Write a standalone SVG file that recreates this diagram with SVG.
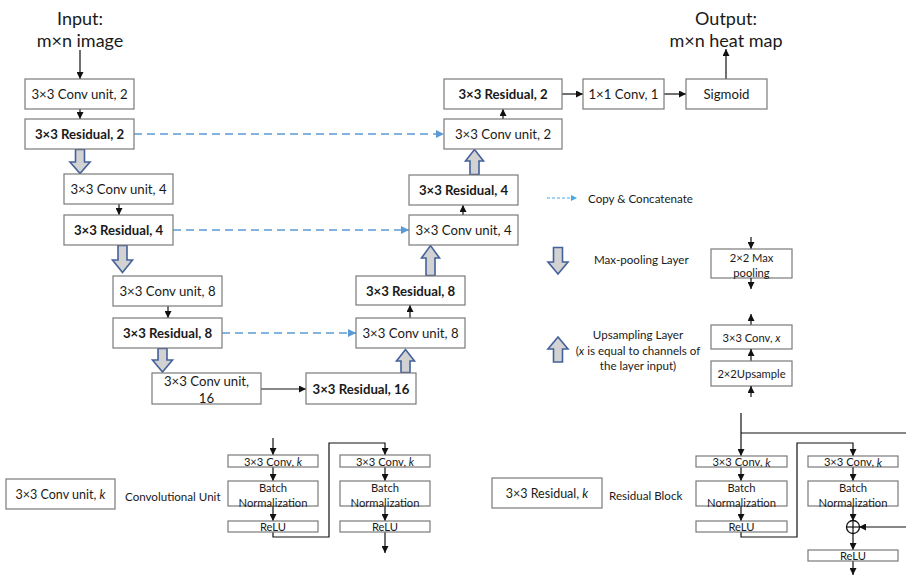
<svg xmlns="http://www.w3.org/2000/svg" width="906" height="575" viewBox="0 0 906 575">
<defs>
<style>
.box{fill:#fff;stroke:#7a7a7a;stroke-width:1.2}
.t{font-family:Lato,"Liberation Sans",sans-serif;font-size:13.2px;fill:#1a1a1a;text-anchor:middle;dominant-baseline:central}
.b{font-weight:bold}
.big{font-size:18px}
.lg{font-size:11.6px;text-anchor:start}
.sm{font-size:11.2px}
.ln{fill:none;stroke:#111;stroke-width:1.2}
.dash{fill:none;stroke:#5b9bd5;stroke-width:1.5;stroke-dasharray:8 5}
.fat{fill:#d2d2d2;stroke:#44619b;stroke-width:1.6;stroke-linejoin:miter}
</style>
<marker id="ah" viewBox="0 0 10 10" refX="10" refY="5" markerWidth="7" markerHeight="7" markerUnits="userSpaceOnUse" orient="auto"><path d="M0,0L10,5L0,10z" fill="#111"/></marker>
<marker id="bh" viewBox="0 0 10 10" refX="10" refY="5" markerWidth="8" markerHeight="8" markerUnits="userSpaceOnUse" orient="auto"><path d="M0,0L10,5L0,10z" fill="#5b9bd5"/></marker>
<marker id="ch" viewBox="0 0 10 10" refX="10" refY="5" markerWidth="6" markerHeight="6" markerUnits="userSpaceOnUse" orient="auto"><path d="M0,0L10,5L0,10z" fill="#4aa8e0"/></marker>
</defs>
<rect width="906" height="575" fill="#fff"/>

<g id="labels">
<text class="t big" x="80" y="18">Input:</text>
<text class="t big" x="80" y="40">m×n image</text>
<text class="t big" x="726" y="18">Output:</text>
<text class="t big" x="726" y="40">m×n heat map</text>
</g>

<g id="connectors">
<line class="ln" x1="80" y1="50" x2="80" y2="79" marker-end="url(#ah)"/>
<line class="ln" x1="80" y1="109" x2="80" y2="119" marker-end="url(#ah)"/>
<line class="ln" x1="119" y1="204" x2="119" y2="215" marker-end="url(#ah)"/>
<line class="ln" x1="168" y1="306" x2="168" y2="318" marker-end="url(#ah)"/>
<line class="ln" x1="261" y1="389" x2="306" y2="389" marker-end="url(#ah)"/>
<line class="ln" x1="410" y1="318" x2="410" y2="305" marker-end="url(#ah)"/>
<line class="ln" x1="463" y1="215" x2="463" y2="205" marker-end="url(#ah)"/>
<line class="ln" x1="503" y1="119" x2="503" y2="109" marker-end="url(#ah)"/>
<line class="ln" x1="562" y1="94" x2="583" y2="94" marker-end="url(#ah)"/>
<line class="ln" x1="664" y1="94" x2="686" y2="94" marker-end="url(#ah)"/>
<line class="ln" x1="726" y1="79" x2="726" y2="49" marker-end="url(#ah)"/>
<line class="dash" x1="134" y1="134" x2="444" y2="134" marker-end="url(#bh)"/>
<line class="dash" x1="173" y1="230" x2="409" y2="230" marker-end="url(#bh)"/>
<line class="dash" x1="222" y1="333" x2="356" y2="333" marker-end="url(#bh)"/>
<!-- fat pooling arrows -->
<path class="fat" d="M75.5,149.5H84.5V162H90L80,173.5L70,162H75.5Z"/>
<path class="fat" d="M118,245.5H127V260H132.5L122.5,272.5L112.5,260H118Z"/>
<path class="fat" d="M158,348.5H167V360H172.5L162.5,372L152.5,360H158Z"/>
<!-- fat upsampling arrows -->
<path class="fat" d="M401,372.5H410V361H414.5L405.5,349.5L396.5,361H401Z"/>
<path class="fat" d="M426,275.5H435V258H439.5L430.5,245.5L421.5,258H426Z"/>
<path class="fat" d="M470,174.5H479V161H483.5L474.5,149.5L465.5,161H470Z"/>
<!-- conv unit detail -->
<line class="ln" x1="273" y1="438" x2="273" y2="455" marker-end="url(#ah)"/>
<line class="ln" x1="273" y1="467" x2="273" y2="481" marker-end="url(#ah)"/>
<line class="ln" x1="273" y1="497" x2="273" y2="521" marker-end="url(#ah)"/>
<polyline class="ln" points="273,532 273,537 329,537 329,443 385,443 385,455" marker-end="url(#ah)"/>
<line class="ln" x1="385" y1="467" x2="385" y2="481" marker-end="url(#ah)"/>
<line class="ln" x1="385" y1="497" x2="385" y2="521" marker-end="url(#ah)"/>
<line class="ln" x1="385" y1="532" x2="385" y2="553" marker-end="url(#ah)"/>
<!-- residual detail -->
<line class="ln" x1="741" y1="413" x2="741" y2="456" marker-end="url(#ah)"/>
<polyline class="ln" points="741,433 906,433"/>
<line class="ln" x1="741" y1="467" x2="741" y2="481" marker-end="url(#ah)"/>
<line class="ln" x1="741" y1="497" x2="741" y2="521" marker-end="url(#ah)"/>
<polyline class="ln" points="741,532 741,537 797,537 797,443 853,443 853,456" marker-end="url(#ah)"/>
<line class="ln" x1="853" y1="467" x2="853" y2="481" marker-end="url(#ah)"/>
<line class="ln" x1="853" y1="497" x2="853" y2="521" marker-end="url(#ah)"/>
<line class="ln" x1="906" y1="527" x2="859" y2="527" marker-end="url(#ah)"/>
<line class="ln" x1="853" y1="533" x2="853" y2="550" marker-end="url(#ah)"/>
<line class="ln" x1="853" y1="561" x2="853" y2="575" marker-end="url(#ah)"/>
</g>

<g id="conv2"><rect class="box" x="25" y="79" width="109" height="30"/><text class="t" x="79.5" y="94">3×3 Conv unit, 2</text></g>
<g id="res2"><rect class="box" x="25" y="119" width="109" height="30"/><text class="t b" x="79.5" y="134">3×3 Residual, 2</text></g>
<g id="conv4"><rect class="box" x="64" y="174" width="109" height="30"/><text class="t" x="118.5" y="189">3×3 Conv unit, 4</text></g>
<g id="res4"><rect class="box" x="64" y="215" width="109" height="30"/><text class="t b" x="118.5" y="230">3×3 Residual, 4</text></g>
<g id="conv8"><rect class="box" x="113" y="276" width="109" height="30"/><text class="t" x="167.5" y="291">3×3 Conv unit, 8</text></g>
<g id="res8"><rect class="box" x="113" y="318" width="109" height="30"/><text class="t b" x="167.5" y="333">3×3 Residual, 8</text></g>
<g id="conv16"><rect class="box" x="152" y="373" width="109" height="31"/><text class="t" x="206.5" y="381">3×3 Conv unit,</text><text class="t" x="206.5" y="398">16</text></g>
<g id="res16"><rect class="box" x="306" y="373" width="110" height="31"/><text class="t b" x="361" y="389">3×3 Residual, 16</text></g>
<g id="upconv8"><rect class="box" x="356" y="318" width="109" height="30"/><text class="t" x="410.5" y="333">3×3 Conv unit, 8</text></g>
<g id="upres8"><rect class="box" x="356" y="276" width="109" height="29"/><text class="t b" x="410.5" y="290.5">3×3 Residual, 8</text></g>
<g id="upconv4"><rect class="box" x="409" y="215" width="109" height="30"/><text class="t" x="463.5" y="230">3×3 Conv unit, 4</text></g>
<g id="upres4"><rect class="box" x="409" y="175" width="109" height="30"/><text class="t b" x="463.5" y="190">3×3 Residual, 4</text></g>
<g id="upconv2"><rect class="box" x="444" y="119" width="118" height="30"/><text class="t" x="503" y="134">3×3 Conv unit, 2</text></g>
<g id="upres2"><rect class="box" x="444" y="79" width="118" height="30"/><text class="t b" x="503" y="94">3×3 Residual, 2</text></g>
<g id="conv1x1"><rect class="box" x="583" y="79" width="81" height="30"/><text class="t" x="623.5" y="94">1×1 Conv, 1</text></g>
<g id="sigmoid"><rect class="box" x="686" y="79" width="81" height="30"/><text class="t" x="726.5" y="94">Sigmoid</text></g>

<g id="legend-copy">
<line x1="547" y1="198" x2="577" y2="198" stroke="#4aa8e0" stroke-width="1.2" stroke-dasharray="3 2" marker-end="url(#ch)"/>
<text class="t lg" x="588" y="198">Copy &amp; Concatenate</text>
</g>
<g id="legend-pool">
<path class="fat" d="M553.5,247.5H562.5V262H568L558,274L548,262H553.5Z"/>
<text class="t lg" x="594" y="259">Max-pooling Layer</text>
<line class="ln" x1="751" y1="237" x2="751" y2="249" marker-end="url(#ah)"/>
<rect class="box" x="711" y="249" width="81" height="29"/>
<text class="t sm" x="751.5" y="257">2×2 Max</text>
<text class="t sm" x="751.5" y="272">pooling</text>
<line class="ln" x1="751" y1="278" x2="751" y2="289" marker-end="url(#ah)"/>
</g>
<g id="legend-up">
<path class="fat" d="M553.5,362H562.5V349H568L558,337L548,349H553.5Z"/>
<text class="t" style="font-size:11.6px" x="638" y="334">Upsampling Layer</text>
<text class="t" style="font-size:11.6px" x="638" y="350">(<tspan font-style="italic">x</tspan> is equal to channels of</text>
<text class="t" style="font-size:11.6px" x="638" y="365">the layer input)</text>
<line class="ln" x1="751" y1="325" x2="751" y2="314" marker-end="url(#ah)"/>
<rect class="box" x="711" y="325" width="81" height="24"/>
<text class="t sm" x="751.5" y="337">3×3 Conv, <tspan font-style="italic">x</tspan></text>
<line class="ln" x1="751" y1="361" x2="751" y2="349" marker-end="url(#ah)"/>
<rect class="box" x="711" y="361" width="81" height="25"/>
<text class="t sm" x="751.5" y="373.5">2×2Upsample</text>
<line class="ln" x1="751" y1="397" x2="751" y2="386" marker-end="url(#ah)"/>
</g>

<g id="convunit-legend">
<rect class="box" x="6" y="479" width="109" height="30"/>
<text class="t" style="font-size:12.5px" x="60.5" y="494">3×3 Conv unit, <tspan font-style="italic">k</tspan></text>
<text class="t lg" x="125" y="496">Convolutional Unit</text>
</g>
<g id="cu-conv1"><rect class="box" x="228" y="455" width="90" height="12"/><text class="t sm" x="273" y="461">3×3 Conv, <tspan font-style="italic">k</tspan></text></g>
<g id="cu-bn1"><rect class="box" x="228" y="481" width="90" height="25"/><text class="t sm" x="273" y="487">Batch</text><text class="t sm" x="273" y="502">Normalization</text></g>
<g id="cu-relu1"><rect class="box" x="228" y="521" width="90" height="11"/><text class="t sm" x="273" y="526.5">ReLU</text></g>
<g id="cu-conv2"><rect class="box" x="340" y="455" width="90" height="12"/><text class="t sm" x="385" y="461">3×3 Conv, <tspan font-style="italic">k</tspan></text></g>
<g id="cu-bn2"><rect class="box" x="340" y="481" width="90" height="25"/><text class="t sm" x="385" y="487">Batch</text><text class="t sm" x="385" y="502">Normalization</text></g>
<g id="cu-relu2"><rect class="box" x="340" y="521" width="90" height="11"/><text class="t sm" x="385" y="526.5">ReLU</text></g>

<g id="resblock-legend">
<rect class="box" x="492" y="478" width="110" height="30"/>
<text class="t" style="font-size:12.5px" x="547" y="493">3×3 Residual, <tspan font-style="italic">k</tspan></text>
<text class="t lg" x="609" y="495">Residual Block</text>
</g>
<g id="rb-conv1"><rect class="box" x="696" y="456" width="91" height="11"/><text class="t sm" x="741.5" y="461.5">3×3 Conv, <tspan font-style="italic">k</tspan></text></g>
<g id="rb-bn1"><rect class="box" x="696" y="481" width="91" height="25"/><text class="t sm" x="741.5" y="487">Batch</text><text class="t sm" x="741.5" y="502">Normalization</text></g>
<g id="rb-relu1"><rect class="box" x="696" y="521" width="91" height="11"/><text class="t sm" x="741.5" y="526.5">ReLU</text></g>
<g id="rb-conv2"><rect class="box" x="808" y="456" width="90" height="11"/><text class="t sm" x="853" y="461.5">3×3 Conv, <tspan font-style="italic">k</tspan></text></g>
<g id="rb-bn2"><rect class="box" x="808" y="481" width="90" height="25"/><text class="t sm" x="853" y="487">Batch</text><text class="t sm" x="853" y="502">Normalization</text></g>
<g id="rb-add"><circle cx="853" cy="527" r="6.5" fill="#fff" stroke="#111" stroke-width="1.3"/><line class="ln" x1="846.5" y1="527" x2="859.5" y2="527"/><line class="ln" x1="853" y1="520.5" x2="853" y2="533.5"/></g>
<g id="rb-relu2"><rect class="box" x="808" y="550" width="90" height="11"/><text class="t sm" x="853" y="555.5">ReLU</text></g>
</svg>
